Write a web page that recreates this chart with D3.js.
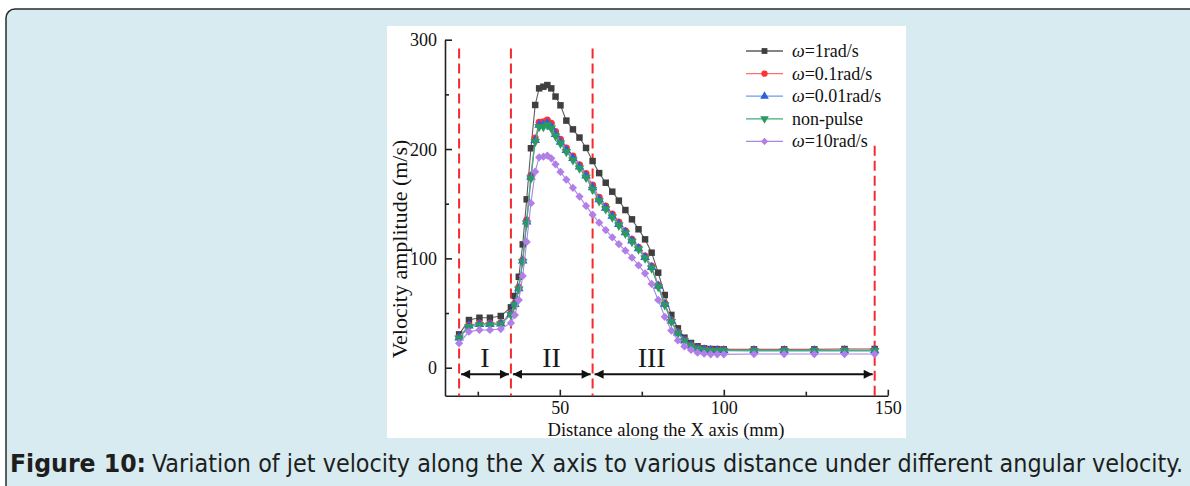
<!DOCTYPE html>
<html>
<head>
<meta charset="utf-8">
<script src="https://cdn.jsdelivr.net/npm/d3@7"></script>
<style>
  html, body { margin: 0; padding: 0; background: #fff; }
  svg { display: block; }
</style>
</head>
<body>
<div id="chart"></div>
<script>
// distance along X (mm), shared by all series
var xs = [19.3, 22.3, 25.5, 28.7, 32.0,
  35.1, 36.3, 37.5, 38.7, 39.9, 41.2, 42.5, 43.7, 45.0, 46.2, 47.4, 48.7, 50.2, 52.0, 54.0, 56.0, 58.0, 60.0,
  62, 64, 66, 68, 70, 72, 74, 76, 78, 80, 82, 84, 86, 88, 90, 92, 94, 96, 98, 100,
  109.2, 118.4, 127.6, 136.8, 146];

var w1 = [30.5, 43.6, 45.7, 45.7, 47.3,
  55.2, 65.6, 83.2, 112.8, 154.0, 200.7, 240.3, 255.5, 257.0, 258.5, 255.5, 248.0, 240.0, 226.0, 218.0, 210.5, 201.0, 189.0,
  178.0, 169.2, 161.0, 152.8, 144.2, 135.7, 126.6, 117.4, 105.2, 86.9, 66.5, 48.3, 36.0, 27.5, 22.6, 19.6, 17.7, 17.1, 17.0, 16.8,
  16.8, 16.8, 16.8, 17.1, 17.1];
var w01 = [28.0, 39.0, 40.5, 40.5, 41.0,
  50.0, 59.0, 73.5, 98.5, 135.0, 176.0, 210.0, 224.5, 225.0, 226.5, 223.5, 216.0, 209.0, 201.0, 193.5, 185.5, 177.5, 167.0,
  155.8, 147.9, 140.6, 133.3, 125.3, 117.4, 110.1, 102.2, 93.0, 75.6, 59.0, 43.5, 32.5, 25.5, 21.0, 18.0, 16.8, 16.3, 16.2, 16.2,
  16.2, 16.2, 16.2, 16.2, 16.2];
var w001 = [27.5, 38.3, 39.7, 39.7, 40.2,
  49.0, 58.0, 72.5, 97.8, 133.5, 174.5, 208.0, 222.0, 222.0, 223.5, 220.5, 213.5, 206.5, 199.0, 191.5, 183.8, 175.5, 164.8,
  153.8, 146.2, 138.7, 131.3, 123.8, 116.2, 109.0, 101.0, 91.8, 74.8, 58.0, 42.7, 31.8, 24.9, 20.4, 17.5, 16.3, 15.9, 15.8, 15.8,
  15.8, 15.8, 15.8, 15.8, 15.8];
var nonPulse = [26.9, 37.5, 39.0, 39.0, 39.7,
  48.5, 57.3, 71.7, 97.0, 132.0, 173.2, 206.7, 220.4, 220.4, 222.0, 219.0, 212.0, 205.2, 197.6, 190.0, 182.4, 174.0, 163.0,
  152.5, 145.2, 137.6, 130.2, 122.9, 115.3, 108.3, 100.1, 90.9, 74.1, 57.3, 42.0, 31.4, 24.5, 20.0, 17.2, 16.0, 15.6, 15.5, 15.5,
  15.4, 15.4, 15.4, 15.4, 15.4];
var w10 = [22.3, 33.0, 34.5, 34.5, 35.4,
  41.0, 48.2, 61.9, 83.9, 115.0, 150.5, 179.3, 192.4, 193.0, 194.0, 191.5, 186.0, 179.0, 172.0, 164.5, 156.5, 148.0, 140.0,
  132.6, 125.9, 119.3, 113.1, 107.0, 100.6, 93.7, 86.3, 76.6, 62.0, 46.6, 34.0, 25.0, 19.5, 16.2, 13.7, 12.8, 12.3, 12.2, 12.2,
  12.5, 12.5, 12.5, 12.5, 12.5];

var legendLabels = ["ω=1rad/s", "ω=0.1rad/s", "ω=0.01rad/s", "non-pulse", "ω=10rad/s"];
var xTicks = [50, 100, 150];
var xMinor = [25, 75, 125];
var yTicks = [0, 100, 200, 300];
var yMinor = [50, 150, 250];
var bounds = [19.3, 35.1, 60, 146];   // red dashed lines
var boundTops = [292, 292, 292, 203];
var regionNames = ["I", "II", "III"];
var regionLabelX = [27.2, 47.5, 78];

var series = [
  { name: legendLabels[0], values: w1, line: "#5c5c5c", fill: "#3f3f3f", sym: d3.symbolSquare, size: 42, rot: 0 },
  { name: legendLabels[1], values: w01, line: "#ff6f6f", fill: "#ff3333", sym: d3.symbolCircle, size: 40, rot: 0 },
  { name: legendLabels[2], values: w001, line: "#6d9cf0", fill: "#2b5fe0", sym: d3.symbolTriangle, size: 40, rot: 0 },
  { name: legendLabels[3], values: nonPulse, line: "#3fae74", fill: "#2a9a62", sym: d3.symbolTriangle, size: 40, rot: 180 },
  { name: legendLabels[4], values: w10, line: "#a987e6", fill: "#b27ee8", sym: d3.symbolSquare, size: 34, rot: 45 }
];

var W = 1190, H = 486;
var svg = d3.select("#chart").append("svg").attr("width", W).attr("height", H);

// page frame
svg.append("rect").attr("x", 0).attr("y", 0).attr("width", W).attr("height", H).attr("fill", "#fff");
svg.append("rect")
  .attr("x", 6).attr("y", 9).attr("width", W + 20).attr("height", H + 20)
  .attr("rx", 9).attr("ry", 9)
  .attr("fill", "#d7ebf0").attr("stroke", "#2b2b2b").attr("stroke-width", 1.5);

// white figure panel
svg.append("rect").attr("x", 387).attr("y", 26).attr("width", 519).attr("height", 412).attr("fill", "#fff");

var x = d3.scaleLinear().domain([15, 150]).range([445, 887.8]);
var y = d3.scaleLinear().domain([-25.6, 300]).range([395.7, 39.7]);

var serif = "'Liberation Serif', 'Times New Roman', serif";

// axes
var gx = svg.append("g").attr("transform", "translate(0," + y(-25.6) + ")");
gx.call(d3.axisBottom(x).tickValues(xTicks).tickSize(-6).tickSizeOuter(0).tickPadding(6));
gx.append("g").call(d3.axisBottom(x).tickValues(xMinor).tickSize(-4).tickFormat(""))
  .select(".domain").remove();
var gy = svg.append("g").attr("transform", "translate(" + x(15) + ",0)");
gy.call(d3.axisLeft(y).tickValues(yTicks).tickSize(-7).tickSizeOuter(0).tickPadding(8));
gy.append("g").call(d3.axisLeft(y).tickValues(yMinor).tickSize(-4).tickFormat(""))
  .select(".domain").remove();
svg.selectAll(".domain, .tick line").attr("stroke", "#222").attr("stroke-width", 1.6);
svg.selectAll(".tick text").attr("font-family", serif).attr("font-size", 18).attr("fill", "#111");
gy.selectAll(".tick text").attr("dy", "0.34em");

svg.append("text").attr("x", 666).attr("y", 436).attr("text-anchor", "middle")
  .attr("font-family", serif).attr("font-size", 18.6).attr("fill", "#111")
  .text("Distance along the X axis (mm)");
svg.append("text").attr("transform", "translate(407,249) rotate(-90)").attr("text-anchor", "middle")
  .attr("font-family", serif).attr("font-size", 22).attr("fill", "#111")
  .text("Velocity amplitude (m/s)");

// region boundaries
svg.selectAll(".bound").data(bounds).join("line")
  .attr("x1", function (d) { return x(d); }).attr("x2", function (d) { return x(d); })
  .attr("y1", function (d, i) { return y(boundTops[i]); }).attr("y2", y(-25.6))
  .attr("stroke", "#f52a2a").attr("stroke-width", 2).attr("stroke-dasharray", "10,5");

// double arrows
var defs = svg.append("defs");
defs.append("marker").attr("id", "ah").attr("viewBox", "0 0 10 10").attr("refX", 10).attr("refY", 5)
  .attr("markerWidth", 12).attr("markerHeight", 9).attr("markerUnits", "userSpaceOnUse").attr("orient", "auto-start-reverse")
  .append("path").attr("d", "M0,0L10,5L0,10Z").attr("fill", "#111");
var arrowY = y(-6);
for (var i = 0; i < 3; i++) {
  svg.append("line")
    .attr("x1", x(bounds[i]) + 2).attr("x2", x(bounds[i + 1]) - 2)
    .attr("y1", arrowY).attr("y2", arrowY)
    .attr("stroke", "#111").attr("stroke-width", 1.8)
    .attr("marker-start", "url(#ah)").attr("marker-end", "url(#ah)");
  svg.append("text").attr("x", x(regionLabelX[i])).attr("y", 367).attr("text-anchor", "middle")
    .attr("font-family", serif).attr("font-size", 28).attr("fill", "#1a1a1a")
    .text(regionNames[i]);
}

// series
var line = d3.line().x(function (d, i) { return x(xs[i]); }).y(function (d) { return y(d); });
series.forEach(function (s) {
  var g = svg.append("g");
  g.append("path").datum(s.values).attr("d", line)
    .attr("fill", "none").attr("stroke", s.line).attr("stroke-width", 1.1);
  var sym = d3.symbol().type(s.sym).size(s.size);
  g.selectAll("path.pt").data(s.values).join("path").attr("class", "pt")
    .attr("d", sym)
    .attr("transform", function (d, i) { return "translate(" + x(xs[i]) + "," + y(d) + ") rotate(" + s.rot + ")"; })
    .attr("fill", s.fill);
});

// legend
var lg = svg.append("g");
series.forEach(function (s, i) {
  var ly = 51 + i * 22.6;
  lg.append("line").attr("x1", 746).attr("x2", 783).attr("y1", ly).attr("y2", ly)
    .attr("stroke", s.line).attr("stroke-width", 1.3);
  lg.append("path").attr("d", d3.symbol().type(s.sym).size(s.size * 0.8))
    .attr("transform", "translate(764.5," + ly + ") rotate(" + s.rot + ")").attr("fill", s.fill);
  var t = lg.append("text").attr("x", 792).attr("y", ly + 6)
    .attr("font-family", serif).attr("font-size", 18).attr("fill", "#111");
  if (s.name.charAt(0) === "ω") {
    t.append("tspan").attr("font-style", "italic").text("ω");
    t.append("tspan").text(s.name.slice(1));
  } else {
    t.text(s.name);
  }
});

// caption
var capFont = "'Liberation Sans Narrow', 'DejaVu Sans Condensed', 'Roboto', sans-serif";
svg.append("text").attr("x", 10).attr("y", 472)
  .attr("font-family", capFont).attr("font-size", 24).attr("font-weight", "bold").attr("fill", "#1e1e1e")
  .attr("textLength", 136).attr("lengthAdjust", "spacingAndGlyphs")
  .text("Figure 10:");
svg.append("text").attr("x", 152).attr("y", 472)
  .attr("font-family", capFont).attr("font-size", 24).attr("fill", "#1e1e1e")
  .attr("textLength", 1031).attr("lengthAdjust", "spacingAndGlyphs")
  .text("Variation of jet velocity along the X axis to various distance under different angular velocity.");
</script>
</body>
</html>
